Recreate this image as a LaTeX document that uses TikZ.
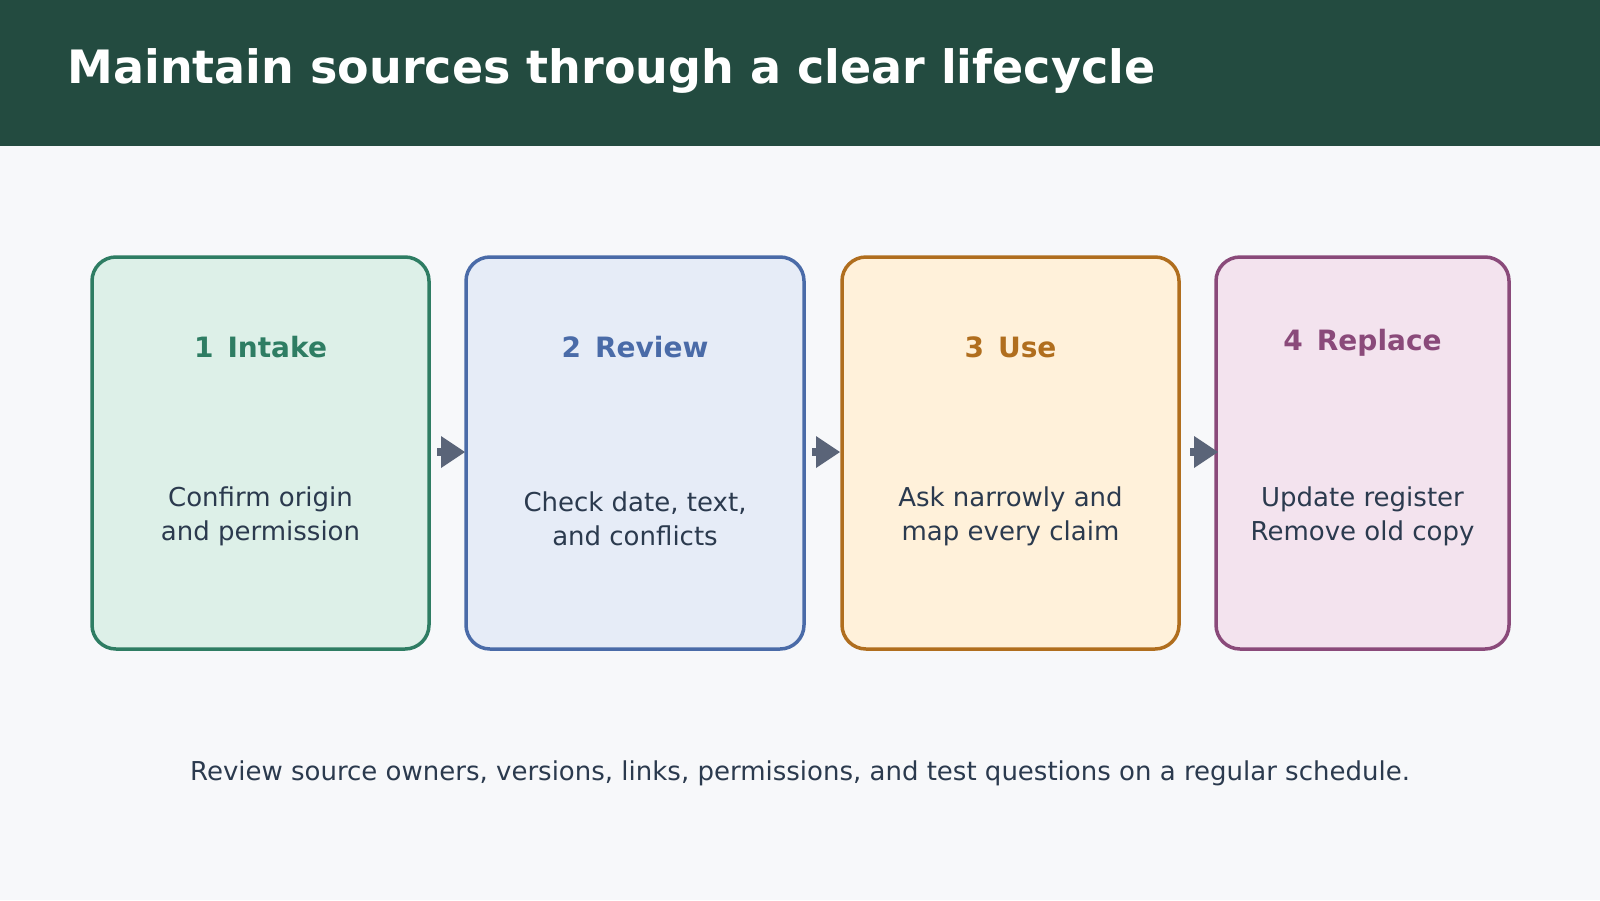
\documentclass[tikz,border=0pt]{standalone}
\usepackage{fontspec}
\setmainfont{DejaVu Sans}
\definecolor{hdr}{HTML}{234B40}
\definecolor{bg}{HTML}{F7F8FA}
\definecolor{txt}{HTML}{2B3A4E}
\definecolor{arr}{HTML}{5A6478}
\definecolor{cA}{HTML}{2E7D63}\definecolor{fA}{HTML}{DDF0E8}
\definecolor{cB}{HTML}{4A6BA8}\definecolor{fB}{HTML}{E6ECF7}
\definecolor{cC}{HTML}{B06E1E}\definecolor{fC}{HTML}{FFF1DA}
\definecolor{cD}{HTML}{8A4A7A}\definecolor{fD}{HTML}{F3E3EE}
\begin{document}
\begin{tikzpicture}[x=1pt,y=-1pt,
  box/.style={draw=#1,line width=3.5pt,rounded corners=24pt},
  ttl/.style={font=\fontsize{28}{32}\selectfont\bfseries,text=#1},
  body/.style={font=\fontsize{26}{34}\selectfont,text=txt,align=center},
  harr/.style={fill=arr}]
\useasboundingbox (0,0) rectangle (1600,900);
\fill[bg] (0,0) rectangle (1600,900);
\fill[hdr] (0,0) rectangle (1600,146);
\node[anchor=west,text=white,font=\fontsize{46}{52}\selectfont\bfseries] (title) at (64,71) {Maintain sources through a clear lifecycle};
\path[box=cA,fill=fA] (92,257) rectangle (429,649);
\path[box=cB,fill=fB] (466,257) rectangle (804,649);
\path[box=cC,fill=fC] (842,257) rectangle (1179,649);
\path[box=cD,fill=fD] (1216,257) rectangle (1509,649);
\node[ttl=cA] (t1) at (260.5,347) {1\enspace Intake};
\node[ttl=cB] (t2) at (635,347) {2\enspace Review};
\node[ttl=cC] (t3) at (1010.5,347) {3\enspace Use};
\node[ttl=cD] (t4) at (1362.5,343) {4\enspace Replace};
\node[body] (b1) at (260.5,516) {Confirm origin\\and permission};
\node[body] (b2) at (635,519) {Check date, text,\\and conflicts};
\node[body] (b3) at (1010.5,516) {Ask narrowly and\\map every claim};
\node[body] (b4) at (1362.5,516) {Update register\\Remove old copy};
\foreach \x in {437,812,1190}{
  \fill[arr] (\x,448) rectangle (\x+6,456);
  \fill[arr] (\x+4,436) -- (\x+28,452) -- (\x+4,468) -- cycle;
}
\node[font=\fontsize{26}{30}\selectfont,text=txt] (foot) at (800,773) {Review source owners, versions, links, permissions, and test questions on a regular schedule.};
\end{tikzpicture}
\end{document}
